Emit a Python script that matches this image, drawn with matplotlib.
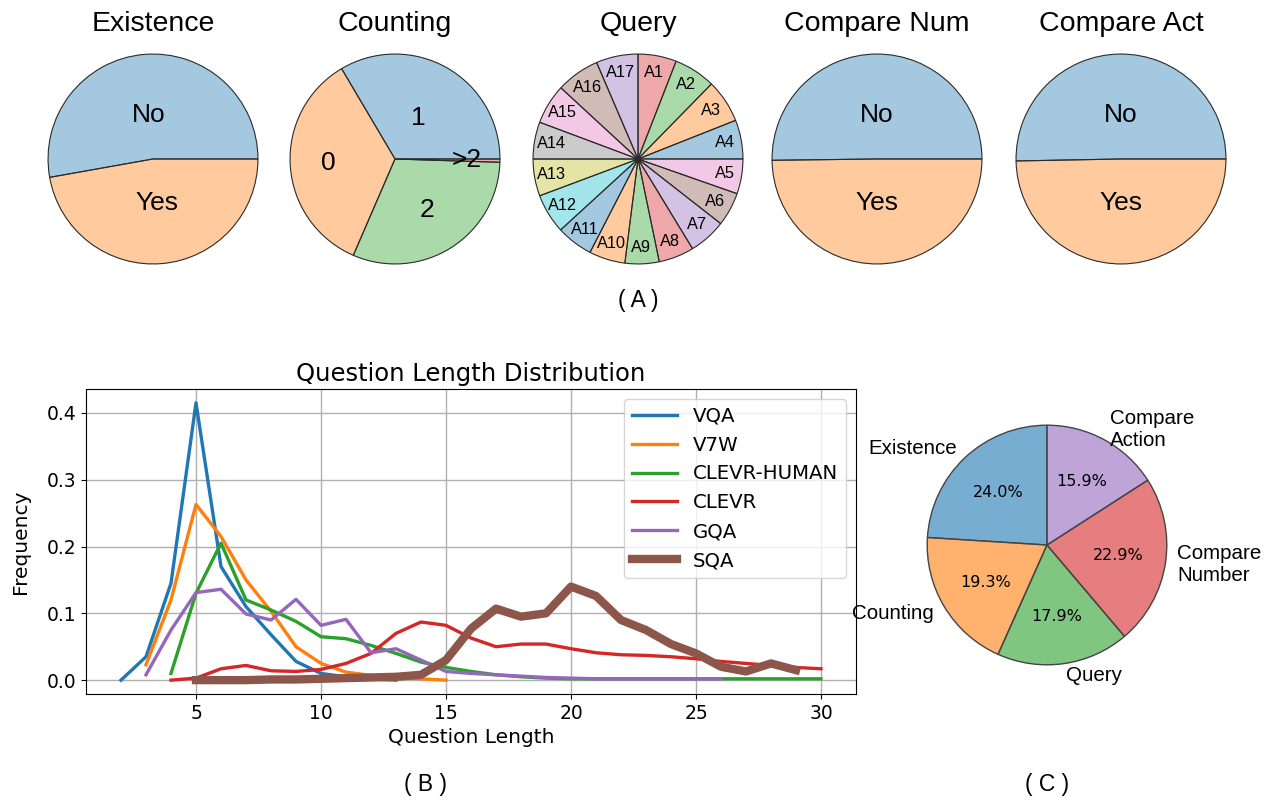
import matplotlib
matplotlib.use('Agg')
import matplotlib.pyplot as plt
from matplotlib.colors import to_rgba

# figure size in pixels
W, H = 1270, 801

# (A) top pies
exist_labels = ['No', 'Yes']
exist_vals = [52.8, 47.2]
count_labels = ['1', '0', '2', '>2']
count_vals = [33.5, 35.0, 31.0, 0.5]
query_labels = ['A1', 'A2', 'A3', 'A4', 'A5', 'A6', 'A7', 'A8', 'A9',
                'A10', 'A11', 'A12', 'A13', 'A14', 'A15', 'A16', 'A17']
query_vals = [21.3, 23.1, 24.0, 21.6, 19.3, 18.7, 20.7, 19.6, 18.9,
              20.0, 20.3, 22.0, 20.5, 20.5, 22.2, 24.1, 23.2]
query_cols = ['tab:red', 'tab:green', 'tab:orange', 'tab:blue', 'tab:pink',
              'tab:brown', 'tab:purple', 'tab:red', 'tab:green', 'tab:orange',
              'tab:blue', 'tab:cyan', 'tab:olive', 'tab:gray', 'tab:pink',
              'tab:brown', 'tab:purple']
cmpnum_labels = ['No', 'Yes']
cmpnum_vals = [50.2, 49.8]
cmpact_labels = ['No', 'Yes']
cmpact_vals = [50.3, 49.7]

# (B) question length distribution
vqa_x = list(range(2, 14))
vqa_y = [0.0, 0.035, 0.145, 0.415, 0.17, 0.11, 0.068, 0.028, 0.01, 0.005, 0.002, 0.0]
v7w_x = list(range(3, 16))
v7w_y = [0.023, 0.12, 0.263, 0.215, 0.15, 0.103, 0.05, 0.025, 0.012, 0.007,
         0.004, 0.002, 0.0]
clevrh_x = list(range(4, 31))
clevrh_y = [0.01, 0.13, 0.205, 0.12, 0.105, 0.088, 0.065, 0.062, 0.052, 0.04,
            0.027, 0.019, 0.013, 0.008, 0.005, 0.003, 0.002, 0.002, 0.002,
            0.002, 0.002, 0.002, 0.002, 0.002, 0.002, 0.002, 0.002]
clevr_x = list(range(4, 31))
clevr_y = [0.0, 0.003, 0.017, 0.022, 0.014, 0.013, 0.016, 0.025, 0.04, 0.07,
           0.087, 0.082, 0.063, 0.05, 0.054, 0.054, 0.047, 0.041, 0.038, 0.037,
           0.035, 0.032, 0.028, 0.025, 0.022, 0.019, 0.017]
gqa_x = list(range(3, 27))
gqa_y = [0.008, 0.075, 0.131, 0.136, 0.099, 0.09, 0.121, 0.082, 0.091, 0.041,
         0.047, 0.03, 0.013, 0.01, 0.008, 0.006, 0.004, 0.003, 0.002, 0.002,
         0.002, 0.002, 0.002, 0.002]
sqa_x = list(range(5, 30))
sqa_y = [0.0, 0.0, 0.0, 0.001, 0.001, 0.002, 0.003, 0.004, 0.005, 0.008, 0.03,
         0.077, 0.107, 0.095, 0.1, 0.14, 0.126, 0.09, 0.075, 0.054, 0.04, 0.02,
         0.013, 0.025, 0.015]

# (C) question types
type_labels = ['Existence', 'Counting', 'Query', 'Compare\nNumber', 'Compare\nAction']
type_vals = [24.0, 19.3, 17.9, 22.9, 15.9]

PIE_FONT = ['Liberation Sans', 'DejaVu Sans']


def pie_axes(fig, cx, cy, r):
    ax = fig.add_axes([(cx - r) / W, 1 - (cy + r) / H, 2 * r / W, 2 * r / H])
    return ax


def small_pie(fig, cx, title, vals, labels, colors, ldist=0.42, fsize=19,
              counterclock=True, startangle=0, scale=None):
    ax = pie_axes(fig, cx, 159, 106)
    wedges, texts = ax.pie(vals, labels=labels, colors=colors,
                           labeldistance=ldist, counterclock=counterclock,
                           startangle=startangle,
                           wedgeprops={'edgecolor': '#2a2a2a', 'linewidth': 0.8},
                           textprops={'fontsize': fsize, 'family': PIE_FONT})
    for i, t in enumerate(texts):
        t.set_ha('center')
        t.set_va('center')
        if scale is not None:
            x, y = t.get_position()
            t.set_position((x * scale[i], y * scale[i]))
    ax.set_xlim(-1.01, 1.01)
    ax.set_ylim(-1.01, 1.01)
    ax.set_title(title, fontsize=20.5, family=PIE_FONT, pad=16)
    return ax


fig = plt.figure(figsize=(W / 100, H / 100), dpi=100)

light = lambda c: to_rgba(c, 0.4)

small_pie(fig, 153, 'Existence', exist_vals, exist_labels,
          [light('tab:blue'), light('tab:orange')])
small_pie(fig, 395, 'Counting', count_vals, count_labels,
          [light('tab:blue'), light('tab:orange'), light('tab:green'), light('tab:red')],
          scale=[1.07, 1.52, 1.36, 1.62])
small_pie(fig, 638, 'Query', query_vals, query_labels,
          [light(c) for c in query_cols], ldist=0.84, fsize=11.8,
          counterclock=False, startangle=90)
small_pie(fig, 877, 'Compare Num', cmpnum_vals, cmpnum_labels,
          [light('tab:blue'), light('tab:orange')])
small_pie(fig, 1121, 'Compare Act', cmpact_vals, cmpact_labels,
          [light('tab:blue'), light('tab:orange')])

fig.text(638 / W, 1 - 300 / H, '( A )', ha='center', va='center',
         fontsize=16.5, family=PIE_FONT)

# line chart
ax = fig.add_axes([86 / W, 1 - 694 / H, (856 - 86) / W, (694 - 389) / H])
ax.plot(vqa_x, vqa_y, color='tab:blue', lw=2.4, label='VQA')
ax.plot(v7w_x, v7w_y, color='tab:orange', lw=2.4, label='V7W')
ax.plot(clevrh_x, clevrh_y, color='tab:green', lw=2.4, label='CLEVR-HUMAN')
ax.plot(clevr_x, clevr_y, color='tab:red', lw=2.4, label='CLEVR')
ax.plot(gqa_x, gqa_y, color='tab:purple', lw=2.4, label='GQA')
ax.plot(sqa_x, sqa_y, color='tab:brown', lw=6, label='SQA')
ax.grid(True, color='#b0b0b0', lw=1)
ax.set_xticks([5, 10, 15, 20, 25, 30])
ax.set_yticks([0.0, 0.1, 0.2, 0.3, 0.4])
ax.tick_params(labelsize=13.5)
ax.set_xlabel('Question Length', fontsize=14.5)
ax.set_ylabel('Frequency', fontsize=14.5, labelpad=12)
ax.set_title('Question Length Distribution', fontsize=17.5, pad=6)
ax.legend(loc='upper right', fontsize=14.2, handlelength=2.3)
fig.text(425 / W, 1 - 785 / H, '( B )', ha='center', va='center',
         fontsize=16.5, family=PIE_FONT)

# pie (C)
axc = pie_axes(fig, 1047, 545, 121)
mid = lambda c: to_rgba(c, 0.6)
axc.pie(type_vals, labels=type_labels, startangle=90,
        colors=[mid('tab:blue'), mid('tab:orange'), mid('tab:green'),
                mid('tab:red'), mid('tab:purple')],
        autopct='%1.1f%%', pctdistance=0.6, labeldistance=1.1,
        wedgeprops={'edgecolor': '#444444', 'linewidth': 1.0},
        textprops={'fontsize': 14.8, 'family': PIE_FONT})
for t in axc.texts:
    if t.get_text().endswith('%'):
        t.set_fontsize(11.5)
        t.set_family('DejaVu Sans')
axc.set_xlim(-1.01, 1.01)
axc.set_ylim(-1.01, 1.01)
fig.text(1047 / W, 1 - 785 / H, '( C )', ha='center', va='center',
         fontsize=16.5, family=PIE_FONT)

fig.savefig('out.png', dpi=100)
